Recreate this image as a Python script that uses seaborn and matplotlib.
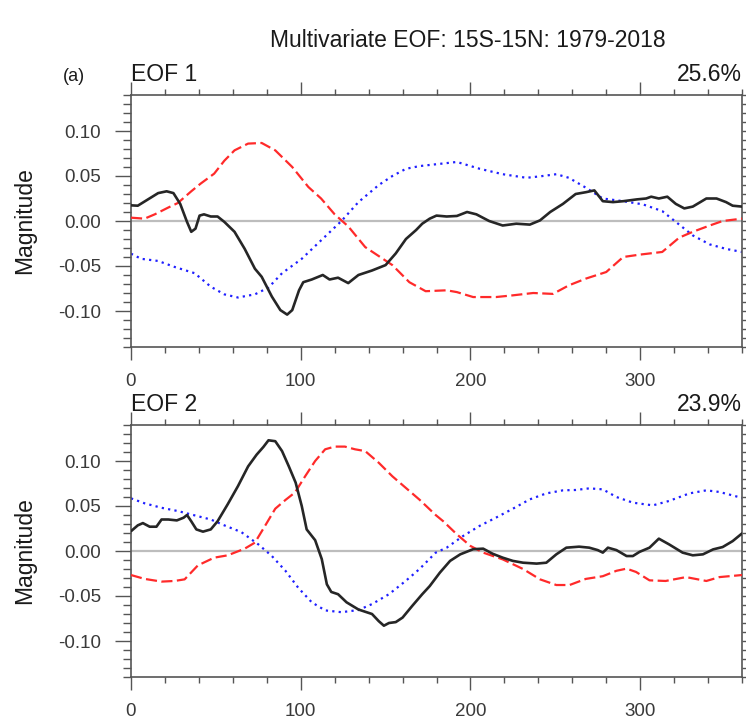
import numpy as np
import pandas as pd
import matplotlib
matplotlib.use("Agg")
import matplotlib.pyplot as plt
import seaborn as sns
from matplotlib.ticker import MultipleLocator, FormatStrFormatter

# ---------------- data ----------------
eof1_black_x = [0, 4, 10, 16, 21, 25, 29, 33, 35.5, 38, 40.4, 43, 47, 51, 55, 61, 67, 73, 77, 83, 88, 92, 95, 99,
                101.5, 106.5, 113, 117, 122, 128, 134, 142, 150, 156, 162, 168, 171.6, 176, 180, 186, 192, 198,
                203.5, 211, 219, 227, 235, 241, 247, 254.5, 262, 268, 273, 278, 284, 290, 298, 303.5, 306.5, 311,
                316, 321, 326, 331, 339, 345, 350.6, 354.5, 360]
eof1_black_y = [0.0174, 0.017, 0.024, 0.031, 0.033, 0.031, 0.019, -0.001, -0.012, -0.0085, 0.006, 0.0074, 0.005,
                0.005, -0.001, -0.012, -0.031, -0.053, -0.062, -0.084, -0.099, -0.104, -0.099, -0.077, -0.068,
                -0.065, -0.060, -0.065, -0.063, -0.069, -0.060, -0.055, -0.049, -0.036, -0.020, -0.010, -0.003,
                0.0026, 0.006, 0.005, 0.0056, 0.010, 0.0074, 0.0, -0.005, -0.003, -0.004, 0.0007, 0.010, 0.019,
                0.030, 0.032, 0.034, 0.022, 0.021, 0.022, 0.024, 0.025, 0.027, 0.025, 0.027, 0.019, 0.014, 0.016,
                0.025, 0.025, 0.021, 0.017, 0.016]

eof1_red_x = [0, 8, 14, 22, 27.6, 35.5, 41, 49, 55, 61, 69, 77, 85, 95, 104.5, 112, 120, 128, 138, 146, 154, 164,
              173.6, 186, 192, 201.6, 215, 225, 237, 248.6, 258, 268, 280, 290, 299.6, 313, 323, 331, 341, 348.6, 360]
eof1_red_y = [0.0037, 0.0026, 0.0074, 0.015, 0.020, 0.033, 0.0415, 0.0526, 0.067, 0.0785, 0.086, 0.0867, 0.0785,
              0.060, 0.0378, 0.025, 0.0074, -0.006, -0.029, -0.039, -0.049, -0.068, -0.078, -0.077, -0.079,
              -0.0845, -0.0845, -0.0826, -0.080, -0.081, -0.0715, -0.064, -0.0567, -0.040, -0.0374, -0.0344,
              -0.0185, -0.012, -0.005, 0.0, 0.0026]

eof1_blue_x = [0, 6, 16, 25.6, 37.5, 47, 55, 63, 73, 81, 89, 100.6, 112, 124, 134, 146, 154, 162, 170, 179.5, 192,
               205.5, 219, 233, 241, 250.6, 258, 268, 278, 290, 301.6, 313, 321, 331, 341, 350.6, 360]
eof1_blue_y = [-0.0363, -0.042, -0.0444, -0.051, -0.058, -0.073, -0.0815, -0.085, -0.0815, -0.074, -0.058, -0.042,
               -0.0215, 0.0, 0.021, 0.040, 0.050, 0.058, 0.061, 0.063, 0.0656, 0.058, 0.052, 0.048, 0.0496, 0.052,
               0.048, 0.037, 0.025, 0.022, 0.0185, 0.011, -0.001, -0.016, -0.026, -0.031, -0.0344]

eof2_black_x = [0, 4, 7, 11, 15, 18, 22, 27, 31, 33, 35.5, 38.5, 42.4, 47, 51, 57, 63, 69, 74, 78, 81, 85, 89, 93,
                97, 100.6, 103.5, 108.5, 112.4, 115.4, 118, 122, 127, 134, 142, 146, 149, 152, 156, 160, 165.7,
                171.6, 176, 182, 188, 194, 201.6, 207.5, 213, 219, 225, 231, 239, 244.7, 250.6, 256.5, 264, 270,
                275, 278, 281, 286, 292, 295.7, 299.6, 305.5, 311, 317, 325, 331, 337, 343, 348.6, 354.5, 360]
eof2_black_y = [0.022, 0.0285, 0.031, 0.027, 0.027, 0.035, 0.035, 0.034, 0.037, 0.040, 0.033, 0.024, 0.0215, 0.024,
                0.033, 0.052, 0.072, 0.094, 0.107, 0.1156, 0.123, 0.122, 0.111, 0.094, 0.076, 0.050, 0.024, 0.012,
                -0.009, -0.037, -0.0455, -0.048, -0.057, -0.065, -0.070, -0.078, -0.083, -0.080, -0.079, -0.074,
                -0.061, -0.048, -0.039, -0.024, -0.011, -0.0037, 0.002, 0.0026, -0.003, -0.0074, -0.011, -0.013,
                -0.014, -0.013, -0.0037, 0.0037, 0.0048, 0.0037, 0.001, -0.0018, 0.0037, 0.001, -0.0056, -0.0056,
                -0.001, 0.0037, 0.0137, 0.0074, -0.0018, -0.0048, -0.0037, 0.0018, 0.0044, 0.011, 0.0195]

eof2_red_x = [0, 8, 18, 25.6, 31.6, 39.4, 49, 57, 67, 73, 79, 85, 91, 96.6, 102.6, 108.5, 114.4, 120, 126, 132, 138,
              146, 154, 162, 170, 179.5, 184, 192, 200, 207.5, 219, 231, 241, 250.6, 258.4, 268, 278, 286, 292,
              297.6, 305.5, 315, 327, 339, 346.7, 360]
eof2_red_y = [-0.0267, -0.031, -0.034, -0.0333, -0.0315, -0.016, -0.0074, -0.0048, 0.0026, 0.0093, 0.028, 0.047,
              0.0567, 0.065, 0.083, 0.100, 0.113, 0.116, 0.116, 0.113, 0.111, 0.098, 0.083, 0.070, 0.057, 0.040,
              0.033, 0.0185, 0.0056, -0.0018, -0.0093, -0.020, -0.0315, -0.0378, -0.0378, -0.031, -0.028, -0.022,
              -0.0196, -0.0233, -0.0326, -0.0333, -0.029, -0.0333, -0.029, -0.0267]

eof2_blue_x = [0, 8, 18, 27.6, 37.5, 47, 55, 65, 75, 83, 91, 98.6, 106.5, 114.4, 124, 134, 142, 152, 162, 170,
               179.5, 186, 195.7, 205.5, 215, 225, 235, 244.7, 254.5, 262, 270, 278, 286, 295.7, 307.5, 317, 329,
               339, 346.7, 360]
eof2_blue_y = [0.0585, 0.053, 0.048, 0.0444, 0.0396, 0.035, 0.0285, 0.021, 0.0074, -0.0056, -0.022, -0.041, -0.057,
               -0.066, -0.068, -0.0656, -0.059, -0.048, -0.033, -0.020, -0.0019, 0.0037, 0.0167, 0.028, 0.037,
               0.047, 0.0574, 0.064, 0.0674, 0.0678, 0.0696, 0.0685, 0.060, 0.0537, 0.0507, 0.0556, 0.064, 0.0674,
               0.0656, 0.059]

panel_titles = ["EOF 1", "EOF 2"]
panel_pcts = ["25.6%", "23.9%"]
main_title = "Multivariate EOF: 15S-15N: 1979-2018"
y_label = "Magnitude"
x_major_ticks = [0, 100, 200, 300]
y_major_ticks = [-0.10, -0.05, 0.00, 0.05, 0.10]

panels = [
    (eof1_black_x, eof1_black_y, eof1_red_x, eof1_red_y, eof1_blue_x, eof1_blue_y),
    (eof2_black_x, eof2_black_y, eof2_red_x, eof2_red_y, eof2_blue_x, eof2_blue_y),
]

# ---------------- style ----------------
sns.set_theme(style="white")
plt.rcParams["font.family"] = ["Liberation Sans", "DejaVu Sans"]
plt.rcParams["axes.unicode_minus"] = False

W, H = 746, 721
fig = plt.figure(figsize=(W / 100, H / 100), dpi=100)
fig.patch.set_facecolor("white")

left = 131 / W
width = (742 - 131) / W
tops = [95, 425]
ph = 252

txt = "#1a1a1a"
lab_c = "#3a3a3a"
spine_c = "#555555"

for i, (bx, by, rx, ry, ux, uy) in enumerate(panels):
    top = tops[i]
    ax = fig.add_axes([left, 1 - (top + ph) / H, width, ph / H])
    ax.axhline(0, color="#bdbdbd", lw=1.6, zorder=1)
    sns.lineplot(x=ux, y=uy, ax=ax, color="#1f1fff", lw=1.6, zorder=2, estimator=None, sort=False)
    ax.lines[-1].set_dashes((1.0, 1.9))
    sns.lineplot(x=rx, y=ry, ax=ax, color="#ff2a2a", lw=1.6, zorder=3, estimator=None, sort=False)
    ax.lines[-1].set_dashes((5.0, 2.0))
    sns.lineplot(x=bx, y=by, ax=ax, color="#262626", lw=1.9, zorder=4, estimator=None, sort=False)

    ax.set_xlim(0, 360)
    ax.set_ylim(-0.14, 0.14)
    ax.set_xticks(x_major_ticks)
    ax.xaxis.set_minor_locator(MultipleLocator(20))
    ax.set_yticks(y_major_ticks)
    ax.yaxis.set_minor_locator(MultipleLocator(0.01))
    ax.yaxis.set_major_formatter(FormatStrFormatter("%.2f"))
    ax.set_xlabel("")
    ax.set_ylabel(y_label, fontsize=16.5, color=txt, labelpad=16)

    for s in ax.spines.values():
        s.set_visible(True)
        s.set_color(spine_c)
        s.set_linewidth(1.2)

    ax.tick_params(axis="x", which="both", direction="out", top=True, bottom=True,
                   color=spine_c, width=1.0, labelsize=13.5, labelcolor=lab_c)
    ax.tick_params(axis="x", which="major", length=9.5, pad=9)
    ax.tick_params(axis="x", which="minor", length=4.5)
    ax.tick_params(axis="y", which="both", direction="out", left=True, right=True,
                   color=spine_c, width=1.0, labelsize=13.5, labelcolor=lab_c)
    ax.tick_params(axis="y", which="major", length=11.5, pad=10)
    ax.tick_params(axis="y", which="minor", length=5.5)

    # panel labels
    y_txt = 1 + 14 / ph
    ax.text(0.0, y_txt, panel_titles[i], transform=ax.transAxes, ha="left", va="baseline",
            fontsize=16.5, color=txt)
    ax.text(1.0, y_txt, panel_pcts[i], transform=ax.transAxes, ha="right", va="baseline",
            fontsize=16.5, color=txt)
    if i == 0:
        ax.text(-68 / 611, y_txt, "(a)", transform=ax.transAxes, ha="left", va="baseline",
                fontsize=13, color=txt)

fig.text(468 / W, 1 - 47 / H, main_title, ha="center", va="baseline", fontsize=16.5, color=txt)

fig.savefig("out.png", dpi=100, facecolor="white")
